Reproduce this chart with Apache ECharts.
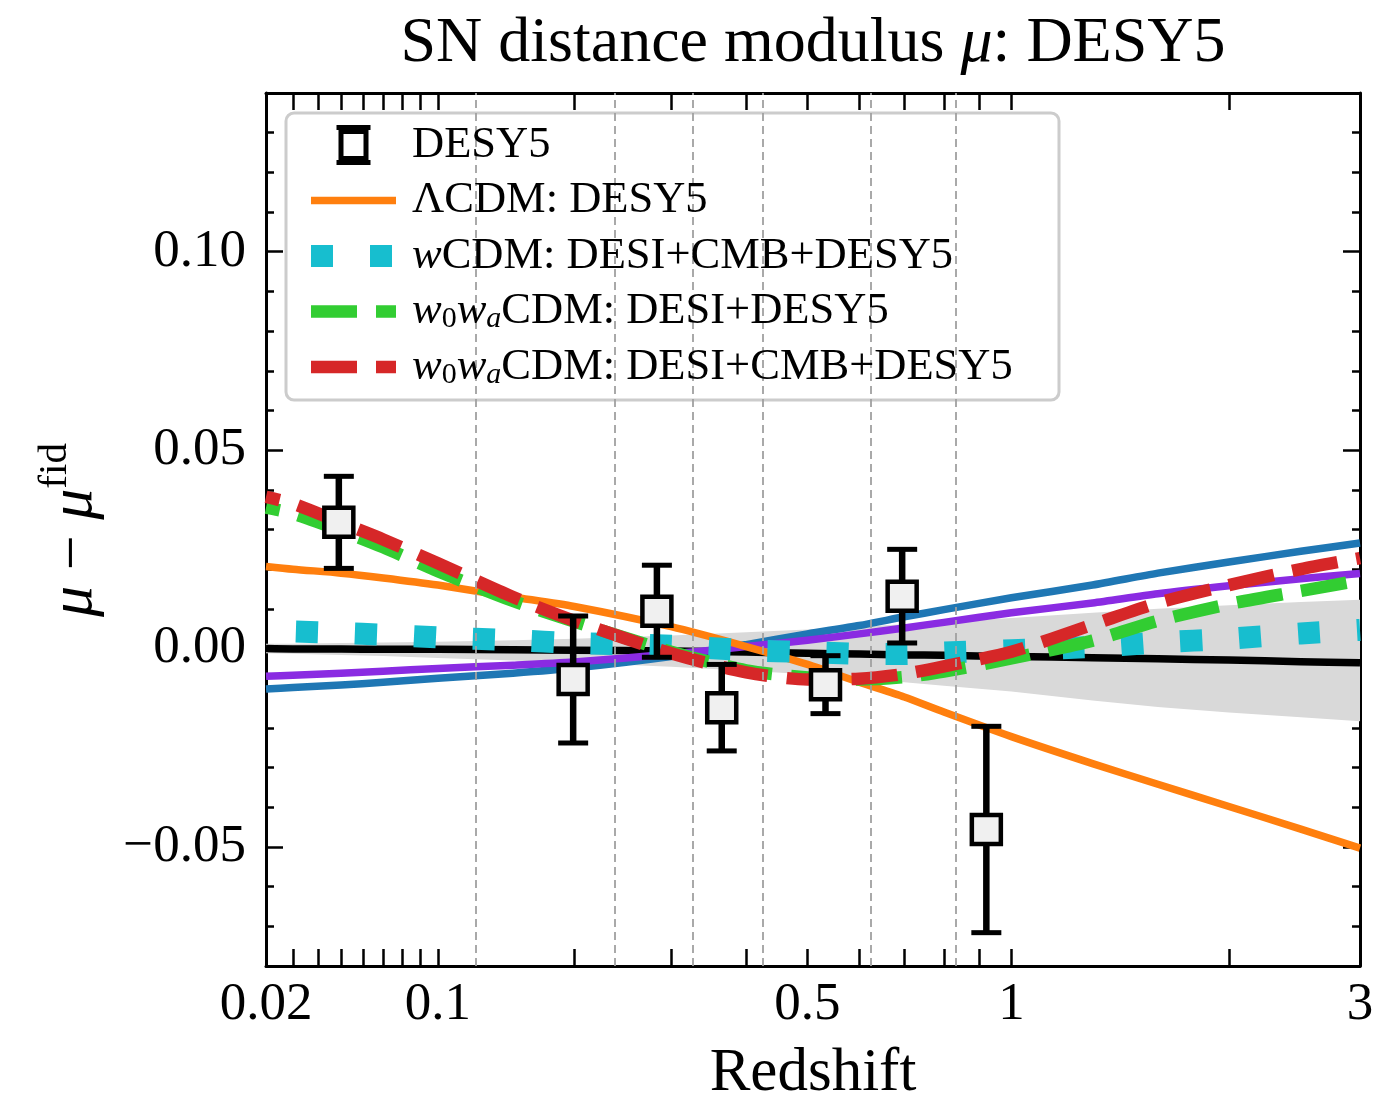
<!DOCTYPE html>
<html><head><meta charset="utf-8">
<script src="https://cdn.jsdelivr.net/npm/echarts@6/dist/echarts.min.js"></script>
<style>html,body{margin:0;padding:0;background:#fff}#c{width:1373px;height:1102px}</style>
</head><body><div id="c"></div>
<script>
// ---------------- data ----------------
const zGrid   = [0.02, 0.03, 0.05, 0.07, 0.1, 0.15, 0.2, 0.3, 0.4, 0.5, 0.6, 0.7, 0.8, 1.0, 1.3, 1.6, 2.0, 2.5, 3.0];
const muFid   = [0.0000, -0.0001, -0.0001, -0.0002, -0.0002, -0.0003, -0.0004, -0.0006, -0.0009, -0.0012, -0.0014, -0.0016, -0.0017, -0.0020, -0.0023, -0.0026, -0.0029, -0.0033, -0.0036];
const bandHi  = [0.0012, 0.0012, 0.0014, 0.0015, 0.0017, 0.0021, 0.0025, 0.0033, 0.0041, 0.0048, 0.0055, 0.0061, 0.0067, 0.0077, 0.0090, 0.0100, 0.0109, 0.0117, 0.0123];
const bandLo  = [-0.0012, -0.0013, -0.0016, -0.0019, -0.0024, -0.0030, -0.0036, -0.0046, -0.0056, -0.0065, -0.0075, -0.0085, -0.0094, -0.0108, -0.0131, -0.0147, -0.0161, -0.0173, -0.0183];
const muBlue  = [-0.0102, -0.0098, -0.0092, -0.0085, -0.0075, -0.0062, -0.0049, -0.0020, 0.0010, 0.0037, 0.0058, 0.0080, 0.0098, 0.0128, 0.0160, 0.0190, 0.0218, 0.0245, 0.0266];
const muPurple= [-0.0070, -0.0067, -0.0062, -0.0057, -0.0050, -0.0042, -0.0034, -0.0014, 0.0005, 0.0021, 0.0037, 0.0052, 0.0066, 0.0090, 0.0115, 0.0138, 0.0158, 0.0176, 0.0189];
const muLCDM  = [0.0207, 0.0200, 0.0190, 0.0178, 0.0160, 0.0130, 0.0106, 0.0055, 0.0005, -0.0040, -0.0085, -0.0122, -0.0160, -0.0222, -0.0290, -0.0342, -0.0398, -0.0455, -0.0503];
const muWCDM  = [0.0045, 0.0043, 0.0039, 0.0035, 0.0028, 0.0021, 0.0014, 0.0007, -0.0004, -0.0009, -0.0013, -0.0014, -0.0010, -0.0004, 0.0004, 0.0015, 0.0025, 0.0038, 0.0047];
const muW0WaD = [0.0355, 0.0340, 0.0297, 0.0255, 0.0195, 0.0120, 0.0068, -0.0008, -0.0055, -0.0073, -0.0078, -0.0072, -0.0058, -0.0025, 0.0020, 0.0070, 0.0112, 0.0145, 0.0172];
const muW0WaC = [0.0382, 0.0365, 0.0317, 0.0275, 0.0215, 0.0130, 0.0070, -0.0012, -0.0060, -0.0078, -0.0076, -0.0064, -0.0045, -0.0008, 0.0060, 0.0115, 0.0160, 0.0200, 0.0228];

const snZ   = [0.049, 0.199, 0.2835, 0.365, 0.533, 0.695, 0.921];
const snMu  = [0.0318, -0.0078, 0.0094, -0.0149, -0.0091, 0.0132, -0.0456];
const snErr = [0.0116, 0.0160, 0.0116, 0.0109, 0.0073, 0.0118, 0.0260];

const binEdgesZ = [0.125, 0.235, 0.325, 0.425, 0.625, 0.825];

const xTickZ     = [0.02, 0.03, 0.04, 0.05, 0.06, 0.07, 0.08, 0.09, 0.1, 0.2, 0.3, 0.4, 0.5, 0.6, 0.7, 0.8, 0.9, 1, 2, 3];
const xLabelZ    = [0.02, 0.1, 0.5, 1, 3];
const xLabelText = ['0.02', '0.1', '0.5', '1', '3'];
const yLabelVals = [-0.05, 0, 0.05, 0.10];
const yLabelText = ['\u22120.05', '0.00', '0.05', '0.10'];
const yMinorVals = [-0.07, -0.06, -0.04, -0.03, -0.02, -0.01, 0.01, 0.02, 0.03, 0.04, 0.06, 0.07, 0.08, 0.09, 0.11, 0.12, 0.13];
const yRange = [-0.08, 0.14];
const zRange = [0.02, 3];

// ---------------- helpers ----------------
const T = z => Math.log10(z + 0.1);   // redshift axis transform
const FONT = "'Liberation Serif', 'DejaVu Serif', serif";
const pts = arr => zGrid.map((z, i) => [T(z), arr[i]]);
const xMin = T(zRange[0]), xMax = T(zRange[1]);
const findLabel = (vals, texts, v) => { for (let i = 0; i < vals.length; i++) if (Math.abs(vals[i] - v) < 1e-7) return texts[i]; return ''; };

const tickLine = { color: '#000', width: 2.5 };
const spine = { show: true, onZero: false, lineStyle: { color: '#000', width: 3 } };

const chart = echarts.init(document.getElementById('c'), null, { renderer: 'canvas' });

function lineSeries(name, data, color, width, type, dashOffset) {
  return {
    name, type: 'line', data: pts(data), symbol: 'none', smooth: 0.25, silent: true,
    xAxisIndex: 0, yAxisIndex: 0, z: 2,
    lineStyle: { color, width, type: type || 'solid', dashOffset: dashOffset || 0, cap: 'butt', join: 'round' },
    itemStyle: { color, opacity: 0 }, emphasis: { disabled: true }
  };
}

const legendLabels = {
  'DESY5': '{a|DESY5}',
  '\u039BCDM: DESY5': '{a|\u039BCDM: DESY5}',
  'wCDM: DESI+CMB+DESY5': '{ai|w}{r|CDM: DESI+CMB+DESY5}',
  'w0waCDM: DESI+DESY5': '{ai|w}{sub|0}{i|w}{subi|a}{r|CDM: DESI+DESY5}',
  'w0waCDM: DESI+CMB+DESY5': '{ai|w}{sub|0}{i|w}{subi|a}{r|CDM: DESI+CMB+DESY5}'
};
const LFS = 44.5;
const hideSym = { opacity: 0 };
// errorbar-marker legend glyph: top cap, square frame (with hole), bottom cap
const ICON_DESY5 = 'path://M0,0H34V5H0Z M2,4H32V36H2Z M7,9V31H27V9Z M0,35H34V40H0Z';

const option = {
  animation: false,
  backgroundColor: '#fff',
  grid: [
    { left: 266, top: 93, width: 1094, height: 873, containLabel: false, outerBoundsMode: 'none' },
    { left: 266, top: 93, width: 1094, height: 873, containLabel: false, outerBoundsMode: 'none' }
  ],
  xAxis: [
    { type: 'value', gridIndex: 0, position: 'bottom', min: xMin, max: xMax,
      axisLine: spine, splitLine: { show: false },
      axisTick: { show: true, inside: true, length: 17, lineStyle: tickLine, customValues: xTickZ.map(T) },
      axisLabel: { show: true, customValues: xLabelZ.map(T), showMinLabel: true, showMaxLabel: true,
        formatter: v => findLabel(xLabelZ.map(T), xLabelText, v),
        margin: 13, color: '#000', fontFamily: FONT, fontSize: 53 },
      name: 'Redshift', nameLocation: 'middle', nameGap: 77,
      nameTextStyle: { color: '#000', fontFamily: FONT, fontSize: 61 } },
    { type: 'value', gridIndex: 0, position: 'top', min: xMin, max: xMax,
      axisLine: spine, splitLine: { show: false },
      axisTick: { show: true, inside: true, length: 17, lineStyle: tickLine, customValues: xTickZ.map(T) },
      axisLabel: { show: false } },
    { type: 'value', gridIndex: 1, min: xMin, max: xMax, show: false }
  ],
  yAxis: [
    { type: 'value', gridIndex: 0, position: 'left', min: yRange[0], max: yRange[1],
      axisLine: spine, splitLine: { show: false },
      axisTick: { show: true, inside: true, length: 17, lineStyle: tickLine, customValues: yLabelVals },
      axisLabel: { show: true, customValues: yLabelVals, formatter: v => findLabel(yLabelVals, yLabelText, v),
        margin: 20, color: '#000', fontFamily: FONT, fontSize: 53 } },
    { type: 'value', gridIndex: 0, position: 'right', min: yRange[0], max: yRange[1],
      axisLine: spine, splitLine: { show: false },
      axisTick: { show: true, inside: true, length: 17, lineStyle: tickLine, customValues: yLabelVals },
      axisLabel: { show: false } },
    { type: 'value', gridIndex: 1, position: 'left', min: yRange[0], max: yRange[1],
      axisLine: { show: false, onZero: false }, splitLine: { show: false }, axisLabel: { show: false },
      axisTick: { show: true, inside: true, length: 8, lineStyle: tickLine, customValues: yMinorVals } },
    { type: 'value', gridIndex: 1, position: 'right', min: yRange[0], max: yRange[1],
      axisLine: { show: false, onZero: false }, splitLine: { show: false }, axisLabel: { show: false },
      axisTick: { show: true, inside: true, length: 8, lineStyle: tickLine, customValues: yMinorVals } }
  ],
  legend: {
    show: true, orient: 'vertical', left: 300, top: 122, padding: 0, itemGap: 9.5,
    itemWidth: 85, itemHeight: 40, selectedMode: false, z: 6,
    data: [
      { name: 'DESY5', icon: ICON_DESY5,
        itemStyle: { color: '#000000', borderWidth: 0, opacity: 1 } },
      { name: '\u039BCDM: DESY5', itemStyle: hideSym },
      { name: 'wCDM: DESI+CMB+DESY5', itemStyle: hideSym },
      { name: 'w0waCDM: DESI+DESY5', itemStyle: hideSym },
      { name: 'w0waCDM: DESI+CMB+DESY5', itemStyle: hideSym }
    ],
    lineStyle: { width: 'inherit', dashOffset: 0 },
    formatter: name => legendLabels[name] || name,
    textStyle: {
      color: '#000', fontFamily: FONT, fontSize: LFS, lineHeight: 46,
      rich: {
        a:   { color: '#000', fontFamily: FONT, fontSize: LFS, lineHeight: 46, padding: [0, 0, 0, 11] },
        ai:  { color: '#000', fontFamily: FONT, fontSize: LFS, lineHeight: 46, fontStyle: 'italic', padding: [0, 0, 0, 11] },
        i:   { color: '#000', fontFamily: FONT, fontSize: LFS, lineHeight: 46, fontStyle: 'italic' },
        r:   { color: '#000', fontFamily: FONT, fontSize: LFS, lineHeight: 46 },
        sub: { color: '#000', fontFamily: FONT, fontSize: 30, lineHeight: 24, verticalAlign: 'bottom' },
        subi:{ color: '#000', fontFamily: FONT, fontSize: 30, lineHeight: 24, verticalAlign: 'bottom', fontStyle: 'italic' }
      }
    }
  },
  graphic: { elements: [
    { type: 'rect', z: 5, silent: true,
      shape: { x: 286, y: 113, width: 773, height: 287, r: 8 },
      style: { fill: 'rgba(255,255,255,0.8)', stroke: '#cccccc', lineWidth: 3 } },
    { type: 'text', z: 7, x: 813, y: 44, silent: true,
      style: { text: '{n|SN distance modulus }{i|\u03BC}{n|: DESY5}', align: 'center', verticalAlign: 'middle', fill: '#000',
        rich: { n: { fontFamily: FONT, fontSize: 64, fill: '#000' },
                i: { fontFamily: FONT, fontSize: 64, fill: '#000', fontStyle: 'italic' } } } },
    { type: 'text', z: 7, x: 75, y: 530, rotation: Math.PI / 2, silent: true,
      style: { text: '{m|\u03BC}{o| \u2212 }{m|\u03BC}{s|fid}', align: 'center', verticalAlign: 'middle', fill: '#000',
        rich: { m: { fontFamily: FONT, fontSize: 62, fontStyle: 'italic', lineHeight: 80, fill: '#000' },
                o: { fontFamily: FONT, fontSize: 62, lineHeight: 80, fill: '#000' },
                s: { fontFamily: FONT, fontSize: 41, lineHeight: 32, verticalAlign: 'top', fill: '#000' } } } }
  ] },
  series: [
    { name: 'fiducial uncertainty', type: 'custom', silent: true, clip: true, z: 1,
      data: [[xMin, 0]], encode: { x: 0, y: 1 },
      renderItem: (params, api) => {
        const poly = [];
        for (let i = 0; i < zGrid.length; i++) poly.push(api.coord([T(zGrid[i]), bandHi[i]]));
        for (let i = zGrid.length - 1; i >= 0; i--) poly.push(api.coord([T(zGrid[i]), bandLo[i]]));
        return { type: 'polygon', shape: { points: poly }, style: { fill: '#d9d9d9', stroke: null } };
      },
      markLine: { silent: true, symbol: ['none', 'none'], label: { show: false }, emphasis: { disabled: true },
        lineStyle: { color: '#a0a0a0', width: 1.8, type: [8, 5] },
        data: binEdgesZ.map(z => ({ xAxis: T(z) })) } },
    lineSeries('fiducial', muFid, '#000000', 7.5),
    lineSeries('model blue', muBlue, '#1f77b4', 7.5),
    lineSeries('model purple', muPurple, '#8a2be2', 7.5),
    lineSeries('\u039BCDM: DESY5', muLCDM, '#ff7f0e', 7.5),
    lineSeries('wCDM: DESI+CMB+DESY5', muWCDM, '#17becf', 22, [22, 37], 29),
    lineSeries('w0waCDM: DESI+DESY5', muW0WaD, '#32cd32', 12.5, [46, 19], 32),
    lineSeries('w0waCDM: DESI+CMB+DESY5', muW0WaC, '#d62728', 12.5, [46, 19], 32),
    { name: 'DESY5 errors', type: 'custom', silent: true, z: 3,
      data: snZ.map((z, i) => [T(z), snMu[i], snErr[i]]),
      encode: { x: 0, y: 1 },
      renderItem: (params, api) => {
        const x = api.value(0), y = api.value(1), e = api.value(2);
        const a = api.coord([x, y + e]), b = api.coord([x, y - e]);
        const hw = 15;
        const stV = { stroke: '#000', lineWidth: 6.5 }, stC = { stroke: '#000', lineWidth: 5 };
        return { type: 'group', children: [
          { type: 'line', shape: { x1: a[0], y1: a[1], x2: b[0], y2: b[1] }, style: stV },
          { type: 'line', shape: { x1: a[0] - hw, y1: a[1], x2: a[0] + hw, y2: a[1] }, style: stC },
          { type: 'line', shape: { x1: b[0] - hw, y1: b[1], x2: b[0] + hw, y2: b[1] }, style: stC }
        ] };
      } },
    { name: 'DESY5', type: 'scatter', silent: true, symbol: 'rect', symbolSize: 29, z: 4,
      data: snZ.map((z, i) => [T(z), snMu[i]]),
      itemStyle: { color: '#f0f0f0', borderColor: '#000', borderWidth: 4.5, opacity: 1 } }
  ]
};
chart.setOption(option);
</script></body></html>
